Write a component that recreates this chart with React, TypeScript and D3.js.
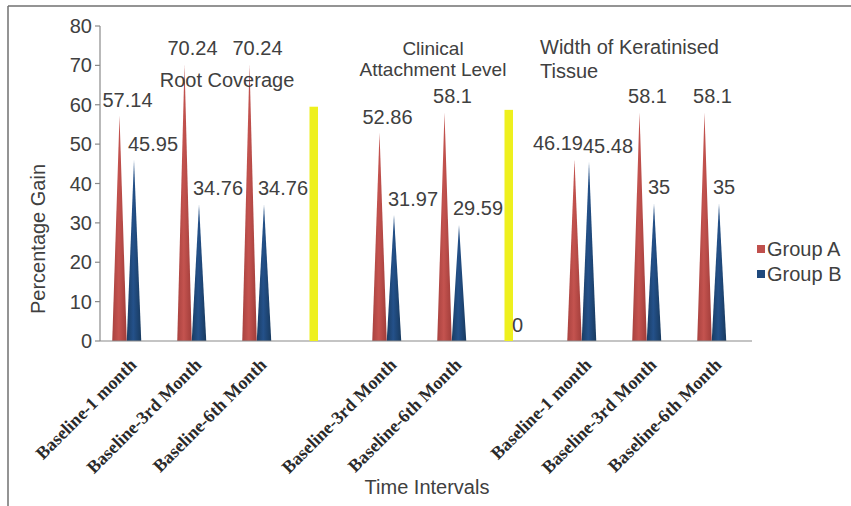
import React from "react";
import * as d3 from "d3";

const categories = [
  "Baseline-1 month",
  "Baseline-3rd Month",
  "Baseline-6th Month",
  "",
  "Baseline-3rd Month",
  "Baseline-6th Month",
  "",
  "Baseline-1 month",
  "Baseline-3rd Month",
  "Baseline-6th Month",
];
const groupA: (number | null)[] = [57.14, 70.24, 70.24, null, 52.86, 58.1, 0, 46.19, 58.1, 58.1];
const groupB: (number | null)[] = [45.95, 34.76, 34.76, null, 31.97, 29.59, null, 45.48, 35, 35];
const separators: (number | null)[] = [null, null, null, 59.5, null, null, 58.7, null, null, null];
const yTicks = [0, 10, 20, 30, 40, 50, 60, 70, 80];
const seriesNames = ["Group A", "Group B"];
const sectionRC = ["Root Coverage"];
const sectionCAL = ["Clinical", "Attachment Level"];
const sectionWKT = ["Width of Keratinised", "Tissue"];

const W = 851;
const H = 506;
const TEXT = "#404040";
const AXIS = "#8a8a8a";
const FONT = "'Liberation Sans', Arial, sans-serif";
const SERIF = "'Liberation Serif', 'Times New Roman', serif";
const FS = 20;

function textWidth(s: string) {
  let w = 0;
  for (const c of s) w += c === "." ? 0.278 : 0.556;
  return w * FS;
}

export default function App() {
  const x = d3
    .scaleBand<number>()
    .domain(categories.map((_, i) => i))
    .range([100, 750])
    .padding(0);
  const y = d3.scaleLinear().domain([0, 80]).range([341, 26]);
  const bc = (i: number) => (x(i) as number) + x.bandwidth() / 2;
  const cw = 14.5;
  const xA = (i: number) => bc(i) - 13;
  const xB = (i: number) => bc(i) + 1.5;

  const cone = (cx: number, v: number) => {
    const p = d3.path();
    p.moveTo(cx - cw / 2, y(0));
    p.lineTo(cx, y(v));
    p.lineTo(cx + cw / 2, y(0));
    p.closePath();
    return p.toString();
  };

  const labels: { x: number; y: number; t: string; anchor: string }[] = [];
  categories.forEach((_, i) => {
    const a = groupA[i];
    const b = groupB[i];
    let la: any = null;
    let lb: any = null;
    if (b != null) {
      lb = { x: xB(i) - 6, y: y(b) - 9, t: String(b), anchor: "start" };
    }
    if (a != null) {
      const t = String(a);
      let cx = xA(i) + 8;
      const ly = y(a) - 9;
      if (lb && Math.abs(lb.y - ly) < 18) {
        const right = cx + textWidth(t) / 2;
        if (right > lb.x) cx -= right - lb.x;
      }
      la = { x: cx, y: ly, t, anchor: "middle" };
    }
    if (la) labels.push(la);
    if (lb) labels.push(lb);
  });

  return (
    <svg
      width={W}
      height={H}
      style={{ position: "absolute", left: 0, top: 0, background: "#fff" }}
      fontFamily={FONT}
    >
      <defs>
        <linearGradient id="gA" x1="0" x2="1" y1="0" y2="0">
          <stop offset="0%" stopColor="#a9423f" />
          <stop offset="45%" stopColor="#c4534f" />
          <stop offset="100%" stopColor="#a13d3a" />
        </linearGradient>
        <linearGradient id="gB" x1="0" x2="1" y1="0" y2="0">
          <stop offset="0%" stopColor="#1a3d64" />
          <stop offset="45%" stopColor="#24518a" />
          <stop offset="100%" stopColor="#183a5f" />
        </linearGradient>
      </defs>
      <rect x={0} y={0} width={W} height={H} fill="#fff" />
      {/* frame */}
      <line x1={8} y1={6} x2={W} y2={6} stroke="#707070" strokeWidth={1.5} />
      <line x1={8} y1={6} x2={8} y2={H} stroke="#707070" strokeWidth={1.5} />

      {/* y axis */}
      <line x1={100} y1={y(80)} x2={100} y2={y(0)} stroke={AXIS} strokeWidth={1.2} />
      {yTicks.map((t) => (
        <g key={t}>
          <line x1={95} x2={100} y1={y(t)} y2={y(t)} stroke={AXIS} strokeWidth={1.2} />
          <text x={92} y={y(t) + 7} textAnchor="end" fontSize={FS} fill={TEXT}>
            {t}
          </text>
        </g>
      ))}

      {/* cones */}
      {groupA.map((v, i) =>
        v ? <path key={"a" + i} d={cone(xA(i), v)} fill="url(#gA)" /> : null
      )}
      {groupB.map((v, i) =>
        v ? <path key={"b" + i} d={cone(xB(i), v)} fill="url(#gB)" /> : null
      )}

      {/* x axis */}
      <line x1={100} y1={y(0)} x2={752} y2={y(0)} stroke={AXIS} strokeWidth={1.2} />

      {/* separators */}
      {separators.map((v, i) =>
        v == null ? null : (
          <rect key={"s" + i} x={bc(i) - 18} y={y(v)} width={8.5} height={y(0) - y(v)} fill="#eef01e" />
        )
      )}

      {/* data labels */}
      {labels.map((l, k) => (
        <text key={"l" + k} x={l.x} y={l.y} textAnchor={l.anchor} fontSize={FS} fill={TEXT}>
          {l.t}
        </text>
      ))}

      {/* section titles */}
      <text x={227} y={87} textAnchor="middle" fontSize={FS} fill={TEXT}>
        {sectionRC[0]}
      </text>
      {sectionCAL.map((s, k) => (
        <text key={s} x={433} y={55 + k * 21} textAnchor="middle" fontSize={19} fill={TEXT}>
          {s}
        </text>
      ))}
      {sectionWKT.map((s, k) => (
        <text key={s} x={540} y={54 + k * 24} textAnchor="start" fontSize={FS} fill={TEXT}>
          {s}
        </text>
      ))}

      {/* x labels */}
      {categories.map((c, i) =>
        c ? (
          <text
            key={"x" + i}
            transform={`translate(${bc(i) + 5},${366}) rotate(-45)`}
            textAnchor="end"
            fontSize={18}
            fontWeight="bold"
            fontFamily={SERIF}
            fill="#2a2a2a"
          >
            {c}
          </text>
        ) : null
      )}

      {/* axis titles */}
      <text x={427} y={494} textAnchor="middle" fontSize={FS} fill={TEXT}>
        Time Intervals
      </text>
      <text transform="translate(45,239) rotate(-90)" textAnchor="middle" fontSize={FS} fill={TEXT}>
        Percentage Gain
      </text>

      {/* legend */}
      {seriesNames.map((s, k) => (
        <g key={s}>
          <rect x={757} y={245 + k * 25} width={8} height={8} fill={k === 0 ? "#c0504d" : "#1f497d"} />
          <text x={767} y={256 + k * 25} fontSize={FS} fill={TEXT}>
            {s}
          </text>
        </g>
      ))}
    </svg>
  );
}
